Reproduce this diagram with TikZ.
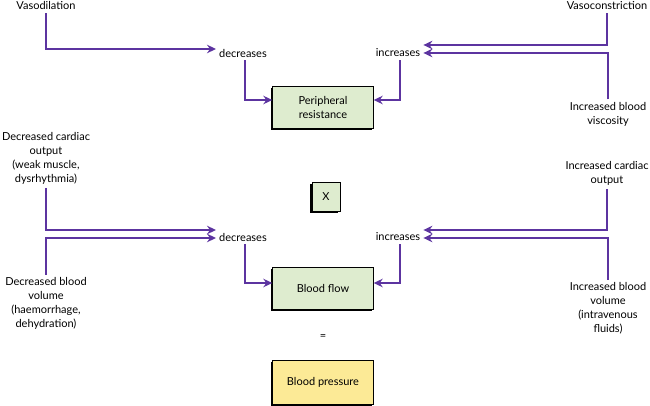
\documentclass[tikz,border=0pt]{standalone}
\usepackage{fontspec}
\setmainfont{Lato}
\usetikzlibrary{arrows.meta,shadows}
\definecolor{morado}{RGB}{92,52,160}
\definecolor{verde}{RGB}{222,236,207}
\definecolor{amarillo}{RGB}{252,234,150}
\tikzset{
  caja/.style={draw=black, fill=verde, minimum width=101pt, minimum height=42pt,
    align=center, inner sep=2pt, font=\fontsize{11}{14}\selectfont,
    drop shadow={shadow xshift=-1.6pt, shadow yshift=-1.6pt, fill=black, opacity=1}},
  texto/.style={align=center, inner sep=3pt, font=\fontsize{11}{14}\selectfont},
  flecha/.style={draw=morado, line width=1.5pt, -{Stealth[length=9pt,width=8.5pt,inset=3pt]}},
}
\begin{document}
\begin{tikzpicture}[x=1pt,y=-1pt]
    \useasboundingbox (0,0) rectangle (650,406);

    % Cajas
    \node[caja] (res) at (323,107) {Peripheral\\resistance};
    \node[caja, minimum width=28pt, minimum height=29pt] (por) at (326,197) {X};
    \node[caja] (flujo) at (323,288) {Blood flow};
    \node[texto] (igual) at (323,337) {=};
    \node[caja, fill=amarillo, minimum height=44pt] (pres) at (323,382) {Blood pressure};

    % Textos
    \node[texto, anchor=north] (vasod) at (46,-1.5) {Vasodilation};
    \node[texto, anchor=north] (vasoc) at (607,-1.5) {Vasoconstriction};
    \node[texto, anchor=north] (visc) at (608,99.5) {Increased blood\\viscosity};
    \node[texto, anchor=north] (gcdec) at (46,129.5) {Decreased cardiac\\output\\(weak muscle,\\dysrhythmia)};
    \node[texto, anchor=north] (vsdec) at (46,274.5) {Decreased blood\\volume\\(haemorrhage,\\dehydration)};
    \node[texto, anchor=north] (gcinc) at (607,158.5) {Increased cardiac\\output};
    \node[texto, anchor=north] (vsinc) at (608,279.5) {Increased blood\\volume\\(intravenous\\fluids)};
    \node[texto] (dec1) at (243,53) {decreases};
    \node[texto] (inc1) at (398,53) {increases};
    \node[texto] (dec2) at (243,237) {decreases};
    \node[texto] (inc2) at (398,237) {increases};

    % Flechas resistencia
    \draw[flecha] (vasod.south) |- ([yshift=4pt]dec1.west);
    \draw[flecha] (vasoc.south) |- ([yshift=8pt]inc1.east);
    \draw[flecha] (visc.north) |- (inc1.east);
    \draw[flecha] ([xshift=2pt]dec1.south) |- ([yshift=7pt]res.west);
    \draw[flecha] ([xshift=2pt]inc1.south) |- ([yshift=7pt]res.east);

    % Flechas flujo
    \draw[flecha] (gcdec.south) |- ([yshift=7pt]dec2.west);
    \draw[flecha] (vsdec.north) |- ([yshift=-1pt]dec2.west);
    \draw[flecha] (gcinc.south) |- ([yshift=7pt]inc2.east);
    \draw[flecha] (vsinc.north) |- ([yshift=-1pt]inc2.east);
    \draw[flecha] ([xshift=2pt]dec2.south) |- ([yshift=5pt]flujo.west);
    \draw[flecha] ([xshift=2pt]inc2.south) |- ([yshift=5pt]flujo.east);
\end{tikzpicture}
\end{document}
